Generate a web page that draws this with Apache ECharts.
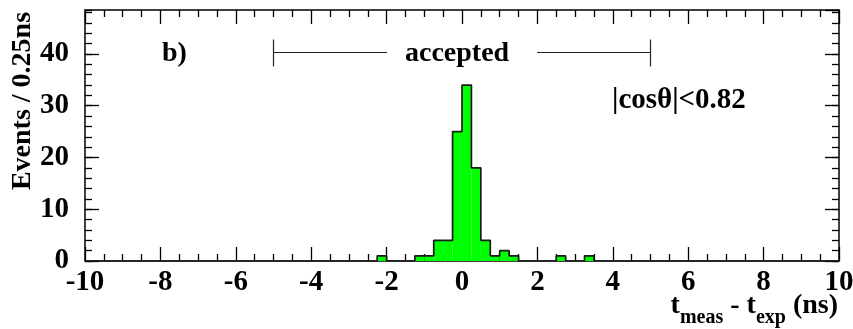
<!DOCTYPE html>
<html>
<head>
<meta charset="utf-8">
<script src="https://cdn.jsdelivr.net/npm/echarts@6/dist/echarts.min.js"></script>
<style>
  html, body { margin: 0; padding: 0; background: #ffffff; }
  #chart { width: 853px; height: 329px; }
</style>
</head>
<body>
<div id="chart"></div>
<script>
// Timing histogram: t_meas - t_exp, 0.25 ns bins, only non-empty bins listed
const binWidth = 0.25;
const binLow = [-2.25, -1.25, -1.0, -0.75, -0.5, -0.25, 0.0, 0.25, 0.5, 0.75, 1.0, 1.25, 2.5, 3.25];
const counts = [1, 1, 1, 4, 4, 25, 34, 18, 4, 1, 2, 1, 1, 1];

// Axis ranges and tick labels
const xRange = [-10, 10];
const yRange = [0, 48.5];
const xTickLabels = [-10, -8, -6, -4, -2, 0, 2, 4, 6, 8, 10];
const yTickLabels = [0, 10, 20, 30, 40];

// Acceptance window drawn as a bracket
const acceptWindow = [-5, 5];
const acceptGap = [-1.99, 1.99];
const acceptLevel = 40.4;
const acceptArm = [37.6, 42.8];

const FONT = '"Liberation Serif", "DejaVu Serif", serif';

// Full histogram (empty bins = 0) for the step outline
const nBins = Math.round((xRange[1] - xRange[0]) / binWidth);
const full = new Array(nBins).fill(0);
binLow.forEach((lo, i) => {
  const k = Math.round((lo - xRange[0]) / binWidth);
  full[k] = counts[i];
});
const outline = full.map((v, k) => [xRange[0] + k * binWidth, v]);
outline.push([xRange[1], full[nBins - 1]]);

const fillData = binLow.map((lo, i) => [lo, lo + binWidth, counts[i]]);

const tickStyle = { color: '#000', width: 1.3 };
const labelStyle = { fontFamily: FONT, fontWeight: 'bold', fontSize: 29, color: '#000' };

function xAxisDef(pos, showLabels) {
  return {
    type: 'value', position: pos, min: xRange[0], max: xRange[1], interval: 2,
    axisLine: { show: false, onZero: false },
    axisTick: { show: true, inside: true, length: 14, lineStyle: tickStyle },
    minorTick: { show: true, splitNumber: 4, length: 7, lineStyle: tickStyle },
    splitLine: { show: false },
    axisLabel: showLabels ? Object.assign({
      show: true, margin: 7,
      formatter: v => xTickLabels.indexOf(v) >= 0 ? String(v) : ''
    }, labelStyle) : { show: false }
  };
}
function yAxisDef(pos, interval, len, showLabels) {
  return {
    type: 'value', position: pos, min: yRange[0], max: yRange[1], interval: interval,
    axisLine: { show: false, onZero: false },
    axisTick: { show: true, inside: true, length: len, lineStyle: tickStyle },
    splitLine: { show: false },
    axisLabel: showLabels ? Object.assign({
      show: true, margin: 16, showMaxLabel: false,
      formatter: v => yTickLabels.indexOf(v) >= 0 ? String(v) : ''
    }, labelStyle) : { show: false }
  };
}

// X-axis title with subscripts: pieces laid out left to right, ending at the frame's right edge
const titlePieces = [
  { text: 't', size: 28, sub: false },
  { text: 'meas', size: 20, sub: true },
  { text: ' - t', size: 28, sub: false },
  { text: 'exp', size: 20, sub: true },
  { text: ' (ns)', size: 28, sub: false }
];
const measureCtx = document.createElement('canvas').getContext('2d');
function textWidth(t, size) {
  measureCtx.font = 'bold ' + size + 'px ' + FONT;
  return measureCtx.measureText(t).width;
}
const titleRight = 838;
const titleTotal = titlePieces.reduce((s, p) => s + textWidth(p.text, p.size), 0);
let cursor = titleRight - titleTotal;
const titleGraphics = titlePieces.map(p => {
  const g = {
    type: 'text', x: cursor, y: p.sub ? 318 : 306,
    style: { text: p.text, font: 'bold ' + p.size + 'px ' + FONT, fill: '#000', align: 'left', verticalAlign: 'middle' }
  };
  cursor += textWidth(p.text, p.size);
  return g;
});

const chart = echarts.init(document.getElementById('chart'), null, { renderer: 'canvas' });
chart.setOption({
  animation: false,
  backgroundColor: '#ffffff',
  grid: {
    left: 85, top: 10, right: 14, bottom: 68,
    containLabel: false, outerBoundsMode: 'none',
    show: true, borderColor: '#000', borderWidth: 1.5, backgroundColor: 'transparent'
  },
  xAxis: [xAxisDef('bottom', true), xAxisDef('top', false)],
  yAxis: [
    yAxisDef('left', 10, 14, true),
    yAxisDef('left', 2, 7, false),
    yAxisDef('right', 10, 14, false),
    yAxisDef('right', 2, 7, false)
  ],
  series: [
    {
      name: 'fill', type: 'custom', xAxisIndex: 0, yAxisIndex: 0,
      data: fillData,
      renderItem: function (params, api) {
        const p0 = api.coord([api.value(0), api.value(2)]);
        const p1 = api.coord([api.value(1), 0]);
        return {
          type: 'rect',
          shape: { x: p0[0], y: p0[1], width: p1[0] - p0[0], height: p1[1] - p0[1] },
          style: { fill: '#00ff00', stroke: null }
        };
      },
      z: 2
    },
    {
      name: 'outline', type: 'line', xAxisIndex: 0, yAxisIndex: 0,
      data: outline, step: 'end', symbol: 'none',
      lineStyle: { color: '#1a1a1a', width: 1.7 },
      z: 3,
      markLine: {
        silent: true, symbol: 'none', label: { show: false },
        lineStyle: { color: '#222', width: 1.2, type: 'solid' },
        data: [
          [{ coord: [acceptWindow[0], acceptLevel] }, { coord: [acceptGap[0], acceptLevel] }],
          [{ coord: [acceptGap[1], acceptLevel] }, { coord: [acceptWindow[1], acceptLevel] }],
          [{ coord: [acceptWindow[0], acceptArm[0]] }, { coord: [acceptWindow[0], acceptArm[1]] }],
          [{ coord: [acceptWindow[1], acceptArm[0]] }, { coord: [acceptWindow[1], acceptArm[1]] }]
        ]
      }
    }
  ],
  graphic: [
    {
      type: 'text', x: 23, y: 101, rotation: Math.PI / 2,
      style: { text: 'Events / 0.25ns', font: 'bold 28px ' + FONT, fill: '#000', align: 'center', verticalAlign: 'middle' }
    },
    { type: 'text', left: 162, top: 40, style: { text: 'b)', font: 'bold 28px ' + FONT, fill: '#000' } },
    { type: 'text', left: 405, top: 40, style: { text: 'accepted', font: 'bold 28px ' + FONT, fill: '#000' } },
    { type: 'text', left: 612, top: 86, style: { text: '|cosθ|<0.82', font: 'bold 29px ' + FONT, fill: '#000' } }
  ].concat(titleGraphics)
});
</script>
</body>
</html>
